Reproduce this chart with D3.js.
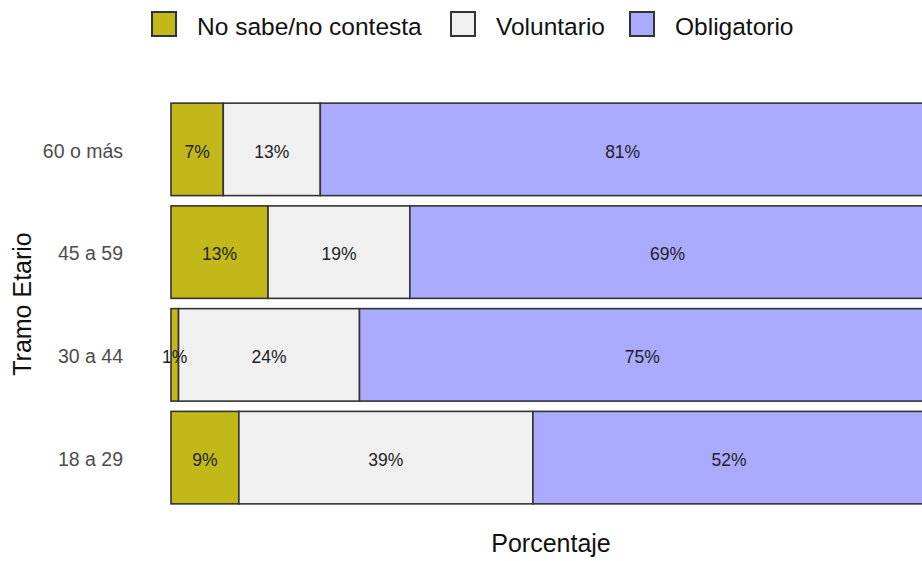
<!DOCTYPE html>
<html>
<head>
<meta charset="utf-8">
<script src="https://cdn.jsdelivr.net/npm/d3@7"></script>
<style>
  body { margin: 0; background: #fff; }
  svg { display: block; font-family: "Liberation Sans", Arial, sans-serif; }
</style>
</head>
<body>
<svg width="922" height="561"></svg>
<script>
// data (percent labels per age group)
var groups = ["60 o más", "45 a 59", "30 a 44", "18 a 29"];
var series = ["No sabe/no contesta", "Voluntario", "Obligatorio"];
var noSabe = [7, 13, 1, 9];
var voluntario = [13, 19, 24, 39];
var obligatorio = [81, 69, 75, 52];
var colors = ["#c2b819", "#f0f0f0", "#aaaaff"];

var rows = groups.map(function (g, i) {
  return {
    group: g,
    "No sabe/no contesta": noSabe[i],
    "Voluntario": voluntario[i],
    "Obligatorio": obligatorio[i]
  };
});

var svg = d3.select("svg");

var x = d3.scaleLinear().domain([0, 1]).range([171, 925]);
var y = d3.scaleBand().domain(groups).range([98, 509]).paddingInner(0.1).paddingOuter(0.05);
var color = d3.scaleOrdinal().domain(series).range(colors);

var stacked = d3.stack().keys(series).offset(d3.stackOffsetExpand)(rows);

var layer = svg.append("g")
  .selectAll("g")
  .data(stacked)
  .enter()
  .append("g")
  .attr("fill", function (d) { return color(d.key); });

layer.selectAll("rect")
  .data(function (d) { return d; })
  .enter()
  .append("rect")
  .attr("x", function (d) { return x(d[0]); })
  .attr("width", function (d) { return x(d[1]) - x(d[0]); })
  .attr("y", function (d) { return y(d.data.group); })
  .attr("height", y.bandwidth())
  .attr("stroke", "#333")
  .attr("stroke-width", 1.6);

// percent labels in the middle of each segment
stacked.forEach(function (s) {
  svg.append("g")
    .selectAll("text")
    .data(s)
    .enter()
    .append("text")
    .attr("x", function (d) { return (x(d[0]) + x(d[1])) / 2; })
    .attr("y", function (d) { return y(d.data.group) + y.bandwidth() / 2 + 2; })
    .attr("dy", "0.35em")
    .attr("text-anchor", "middle")
    .attr("font-size", 17.5)
    .attr("fill", "#222")
    .text(function (d) { return d.data[s.key] + "%"; });
});

// y axis: labels only
var yAxis = d3.axisLeft(y).tickSize(0).tickPadding(0);
var ax = svg.append("g")
  .attr("transform", "translate(123,2)")
  .call(yAxis);
ax.select(".domain").remove();
ax.selectAll("text")
  .attr("font-size", 19.5)
  .attr("fill", "#4d4d4d")
  .attr("font-family", "Liberation Sans, Arial, sans-serif");

// axis titles
svg.append("text")
  .attr("x", 551)
  .attr("y", 552)
  .attr("text-anchor", "middle")
  .attr("font-size", 25)
  .attr("fill", "#111")
  .text("Porcentaje");

svg.append("text")
  .attr("transform", "translate(31,304) rotate(-90)")
  .attr("text-anchor", "middle")
  .attr("font-size", 25)
  .attr("fill", "#111")
  .text("Tramo Etario");

// legend
var legendX = [152, 451, 630];
var legend = svg.append("g")
  .selectAll("g")
  .data(series)
  .enter()
  .append("g")
  .attr("transform", function (d, i) { return "translate(" + legendX[i] + ",12)"; });

legend.append("rect")
  .attr("width", 24)
  .attr("height", 24)
  .attr("fill", function (d) { return color(d); })
  .attr("stroke", "#333")
  .attr("stroke-width", 2);

legend.append("text")
  .attr("x", 45)
  .attr("y", 14)
  .attr("dy", "0.35em")
  .attr("font-size", 24.5)
  .attr("fill", "#111")
  .text(function (d) { return d; });
</script>
</body>
</html>
